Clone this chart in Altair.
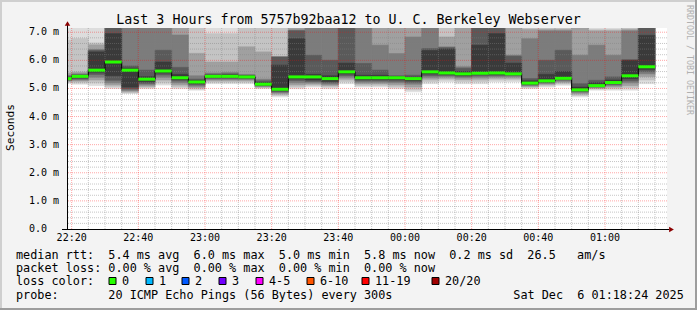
import altair as alt
import pandas as pd

# ---------------- data ----------------
TITLE = "Last 3 Hours from 5757b92baa12 to U. C. Berkeley Webserver"
Y_TITLE = "Seconds"
WATERMARK = "RRDTOOL / TOBI OETIKER"

X_TICKS = ["22:20", "22:40", "23:00", "23:20", "23:40", "00:00", "00:20", "00:40", "01:00"]
Y_TICKS = [0, 1, 2, 3, 4, 5, 6, 7]
Y_TICK_LABELS = ["0.0", "1.0 m", "2.0 m", "3.0 m", "4.0 m", "5.0 m", "6.0 m", "7.0 m"]

# end time of each 5-minute step
COL_END = ["22:20", "22:25", "22:30", "22:35", "22:40", "22:45", "22:50", "22:55", "23:00",
           "23:05", "23:10", "23:15", "23:20", "23:25", "23:30", "23:35", "23:40", "23:45",
           "23:50", "23:55", "00:00", "00:05", "00:10", "00:15", "00:20", "00:25", "00:30",
           "00:35", "00:40", "00:45", "00:50", "00:55", "01:00", "01:05", "01:10", "01:15"]

# median rtt (ms)
MEDIAN = [5.35, 5.43, 5.65, 5.94, 5.65, 5.33, 5.62, 5.38, 5.23,
          5.43, 5.43, 5.41, 5.15, 4.97, 5.41, 5.41, 5.35, 5.59,
          5.38, 5.38, 5.38, 5.35, 5.59, 5.55, 5.52, 5.54, 5.55,
          5.52, 5.19, 5.27, 5.36, 4.95, 5.10, 5.21, 5.45, 5.77]

# smoke bands: upper edges (outer -> inner), ms
UPPER = [
    [7.3, 6.72, 5.55, 5.47, 5.43, 5.39],
    [7.3, 6.77, 5.58, 5.52, 5.49, 5.46],
    [7.3, 6.62, 6.55, 6.38, 6.36, 6.30],
    [7.3, 7.3, 7.3, 7.3, 7.3, 6.95],
    [7.3, 7.3, 7.3, 7.3, 5.80, 5.72],
    [7.3, 7.3, 7.3, 7.3, 5.65, 5.42],
    [7.3, 7.3, 7.3, 7.3, 6.36, 5.94],
    [7.3, 7.3, 7.3, 6.90, 5.75, 5.50],
    [7.3, 7.2, 6.25, 5.45, 5.33, 5.28],
    [7.3, 6.95, 5.94, 5.55, 5.50, 5.47],
    [7.3, 6.95, 5.94, 5.57, 5.52, 5.48],
    [7.3, 7.3, 6.48, 5.50, 5.47, 5.45],
    [7.3, 7.3, 6.30, 5.33, 5.27, 5.21],
    [7.3, 7.3, 6.13, 6.12, 6.12, 5.83],
    [7.3, 7.3, 7.3, 7.08, 7.05, 6.77],
    [7.3, 7.3, 7.3, 7.3, 6.18, 5.50],
    [7.3, 7.3, 7.3, 7.3, 6.00, 5.45],
    [7.3, 7.3, 7.3, 7.3, 7.3, 5.90],
    [7.3, 7.3, 7.3, 7.3, 5.89, 5.47],
    [7.3, 7.3, 7.3, 6.54, 5.65, 5.47],
    [7.3, 7.3, 7.3, 6.24, 5.45, 5.42],
    [7.3, 7.3, 7.3, 6.83, 5.47, 5.40],
    [7.3, 7.3, 7.3, 7.3, 6.42, 6.35],
    [7.3, 7.3, 6.83, 6.48, 6.45, 6.40],
    [7.3, 7.3, 7.3, 5.77, 5.72, 5.60],
    [7.3, 7.3, 7.3, 7.3, 7.3, 6.54],
    [7.3, 7.3, 7.3, 7.3, 7.3, 6.95],
    [7.3, 7.3, 7.2, 6.18, 6.15, 5.90],
    [7.3, 7.3, 7.1, 6.77, 5.35, 5.27],
    [7.3, 7.3, 7.1, 7.05, 6.00, 5.50],
    [7.3, 7.3, 7.1, 7.05, 6.36, 5.60],
    [7.3, 7.3, 7.3, 6.18, 5.17, 5.05],
    [7.3, 7.1, 7.05, 6.54, 5.29, 5.20],
    [7.3, 7.1, 7.05, 6.18, 5.41, 5.30],
    [7.3, 7.3, 7.1, 7.05, 6.02, 6.00],
    [7.3, 7.3, 7.3, 7.3, 7.3, 6.89],
]
# smoke bands: lower edges (outer -> inner), ms
LOWER = [
    [5.18, 5.22, 5.25, 5.28, 5.30, 5.32],
    [5.15, 5.20, 5.26, 5.30, 5.34, 5.38],
    [5.10, 5.20, 5.30, 5.40, 5.50, 5.58],
    [5.00, 5.06, 5.12, 5.20, 5.29, 5.45],
    [4.82, 4.85, 4.88, 4.93, 4.98, 5.05],
    [4.99, 5.03, 5.08, 5.13, 5.18, 5.24],
    [5.12, 5.20, 5.30, 5.40, 5.48, 5.55],
    [4.99, 5.05, 5.12, 5.20, 5.27, 5.32],
    [4.94, 4.98, 5.03, 5.08, 5.13, 5.18],
    [5.17, 5.22, 5.27, 5.32, 5.36, 5.39],
    [5.17, 5.22, 5.27, 5.32, 5.36, 5.39],
    [5.17, 5.22, 5.27, 5.32, 5.35, 5.38],
    [4.99, 5.02, 5.05, 5.08, 5.10, 5.12],
    [4.70, 4.75, 4.80, 4.85, 4.88, 4.92],
    [4.99, 5.05, 5.12, 5.20, 5.28, 5.34],
    [5.05, 5.10, 5.15, 5.20, 5.25, 5.30],
    [4.99, 5.05, 5.10, 5.15, 5.20, 5.25],
    [5.17, 5.25, 5.33, 5.40, 5.46, 5.52],
    [5.05, 5.10, 5.16, 5.22, 5.27, 5.32],
    [5.05, 5.10, 5.16, 5.22, 5.27, 5.32],
    [4.99, 5.05, 5.12, 5.20, 5.26, 5.32],
    [4.88, 4.95, 5.05, 5.15, 5.22, 5.28],
    [5.17, 5.25, 5.33, 5.40, 5.46, 5.52],
    [5.23, 5.30, 5.36, 5.42, 5.46, 5.50],
    [5.17, 5.25, 5.32, 5.38, 5.43, 5.47],
    [5.17, 5.25, 5.33, 5.40, 5.45, 5.50],
    [5.23, 5.30, 5.36, 5.42, 5.46, 5.50],
    [5.23, 5.30, 5.36, 5.42, 5.46, 5.50],
    [4.99, 5.03, 5.07, 5.10, 5.13, 5.16],
    [5.05, 5.10, 5.14, 5.18, 5.21, 5.24],
    [5.11, 5.16, 5.21, 5.26, 5.30, 5.33],
    [4.70, 4.75, 4.80, 4.85, 4.89, 4.92],
    [4.94, 4.98, 5.01, 5.04, 5.06, 5.08],
    [4.94, 4.99, 5.05, 5.10, 5.14, 5.18],
    [4.94, 5.02, 5.10, 5.20, 5.27, 5.35],
    [5.17, 5.30, 5.42, 5.52, 5.60, 5.68],
]

LEGEND_LINES = [
    "median rtt:  5.4 ms avg  6.0 ms max  5.0 ms min  5.8 ms now  0.2 ms sd  26.5   am/s",
    "packet loss: 0.00 % avg  0.00 % max  0.00 % min  0.00 % now",
    "loss color:",
    "probe:       20 ICMP Echo Pings (56 Bytes) every 300s",
]
DATE_TEXT = "Sat Dec  6 01:18:24 2025"
LOSS_LABELS = ["0", "1", "2", "3", "4-5", "6-10", "11-19", "20/20"]
LOSS_COLORS = ["#26ff00", "#00b8ff", "#0059ff", "#7200ff", "#ff00ff", "#ff5500", "#ff0000", "#a00000"]

# ---------------- layout / style ----------------
FONT = "DejaVu Sans Mono"
W, H = 600, 201
PL, PT, PR, PB = 67, 28, 30, 81
X0, X1 = 18.6, 198.6
YMAX = 7.15
GRAYS = ["#dddddd", "#c4c4c4", "#a0a0a0", "#7c7c7c", "#5a5a5a", "#3a3a3a"]
LOSS_BOX_X = [109, 146, 182, 219, 256, 307, 362, 432]   # absolute px
LINE_BASE = [258.5, 271.8, 285.0, 298.5]                 # absolute px


def to_min(hhmm):
    h, m = (int(p) for p in hhmm.split(":"))
    if h < 12:
        h += 24
    return (h - 22) * 60 + m


def nb(s):
    return s.replace(" ", "\u00a0")


xs = alt.Scale(domain=[X0, X1], nice=False, zero=False)
ys = alt.Scale(domain=[0, YMAX], nice=False, zero=False)

# smoke table
rows = []
for j in range(len(GRAYS)):
    for k, end in enumerate(COL_END):
        t1 = to_min(end)
        rows.append(dict(t0=t1 - 5, t1=t1, lo=LOWER[k][j], hi=UPPER[k][j], layer=j))
smoke_df = pd.DataFrame(rows)

med_df = pd.DataFrame({
    "t0": [to_min(e) - 5 for e in COL_END],
    "t1": [to_min(e) for e in COL_END],
    "m": MEDIAN,
})
step_df = pd.DataFrame({
    "t": [to_min(e) - 5 for e in COL_END[1:]],
    "a": MEDIAN[:-1],
    "b": MEDIAN[1:],
})

x_tick_df = pd.DataFrame({"v": [to_min(s) for s in X_TICKS], "label": X_TICKS})
y_tick_df = pd.DataFrame({"v": Y_TICKS, "label": [nb(s) for s in Y_TICK_LABELS]})

minor_y = pd.DataFrame({"v": [i / 5 for i in range(1, int(YMAX * 5) + 1) if i % 5 != 0]})
major_y = pd.DataFrame({"v": [v for v in Y_TICKS if v > 0]})
minor_x = pd.DataFrame({"v": [m for m in range(20, int(X1), 5) if m % 20 != 0]})
major_x = pd.DataFrame({"v": [to_min(s) for s in X_TICKS]})

gray_scale = alt.Scale(domain=list(range(len(GRAYS))), range=GRAYS)

smoke = alt.Chart(smoke_df).mark_rect(clip=True, strokeWidth=0.6).encode(
    x=alt.X("t0:Q", scale=xs, axis=None),
    x2="t1:Q",
    y=alt.Y("lo:Q", scale=ys, axis=None),
    y2="hi:Q",
    color=alt.Color("layer:O", scale=gray_scale, legend=None),
    stroke=alt.Stroke("layer:O", scale=gray_scale, legend=None),
)

grid_minor_h = alt.Chart(minor_y).mark_rule(color="#808080", opacity=0.45, strokeDash=[1, 1]).encode(
    y=alt.Y("v:Q", scale=ys, axis=None))
grid_minor_v = alt.Chart(minor_x).mark_rule(color="#808080", opacity=0.45, strokeDash=[1, 1]).encode(
    x=alt.X("v:Q", scale=xs, axis=None))
grid_major_h = alt.Chart(major_y).mark_rule(color="#ff0000", opacity=0.35, strokeDash=[1, 1]).encode(
    y=alt.Y("v:Q", scale=ys, axis=None))
grid_major_v = alt.Chart(major_x).mark_rule(color="#ff0000", opacity=0.35, strokeDash=[1, 1]).encode(
    x=alt.X("v:Q", scale=xs, axis=None))

steps = alt.Chart(step_df).mark_rule(color="#000000", strokeWidth=1).encode(
    x=alt.X("t:Q", scale=xs, axis=None),
    y=alt.Y("a:Q", scale=ys, axis=None),
    y2="b:Q",
)
green = alt.Chart(med_df).mark_rule(color="#26ff00", strokeWidth=3, clip=True).encode(
    x=alt.X("t0:Q", scale=xs, axis=None),
    x2="t1:Q",
    y=alt.Y("m:Q", scale=ys, axis=None),
)

x_labels = alt.Chart(x_tick_df).mark_text(font=FONT, fontSize=10, align="center",
                                          baseline="top", color="#000000").encode(
    x=alt.X("v:Q", scale=xs, axis=None),
    y=alt.value(H + 4),
    text="label:N",
)
y_labels = alt.Chart(y_tick_df).mark_text(font=FONT, fontSize=10, align="left",
                                          baseline="middle", color="#000000").encode(
    x=alt.value(29 - PL),
    y=alt.Y("v:Q", scale=ys, axis=None),
    text="label:N",
)

one = pd.DataFrame({"a": [0]})


def rule(x, y, x2=None, y2=None, color="#000000", width=1):
    enc = dict(x=alt.value(x), y=alt.value(y))
    if x2 is not None:
        enc["x2"] = alt.value(x2)
    if y2 is not None:
        enc["y2"] = alt.value(y2)
    return alt.Chart(one).mark_rule(color=color, strokeWidth=width).encode(**enc)


def text(s, x, y, size=11.8, align="left", baseline="alphabetic", angle=0, color="#000000"):
    props = dict(font=FONT, fontSize=size, align=align, baseline=baseline, color=color)
    if angle:
        props["angle"] = angle
    return alt.Chart(one).mark_text(**props).encode(
        text=alt.value(nb(s)), x=alt.value(x), y=alt.value(y))


deco = [
    # axes
    rule(0.5, -3, y2=H + 0.5),
    rule(-5, H + 0.5, x2=W + 2),
    alt.Chart(one).mark_point(shape="triangle-up", filled=True, size=30, color="#8b0000", opacity=1).encode(
        x=alt.value(0.5), y=alt.value(-4.5)),
    alt.Chart(one).mark_point(shape="triangle-right", filled=True, size=30, color="#8b0000", opacity=1).encode(
        x=alt.value(W + 4.5), y=alt.value(H + 0.5)),
    # frame
    rule(-PL, -PT + 1, x2=W + PR, color="#cfcfcf", width=2),
    rule(-PL + 1, -PT, y2=H + PB, color="#cfcfcf", width=2),
    rule(W + PR - 1, -PT, y2=H + PB, color="#9d9d9d", width=2),
    rule(-PL, H + PB - 1, x2=W + PR, color="#9d9d9d", width=2),
    # texts
    text(TITLE, 348.5 - PL, 24 - PT, size=13.3, align="center"),
    text(Y_TITLE, 10.5 - PL, 127.5 - PT, size=11.2, align="center", baseline="middle", angle=270),
    text(WATERMARK, 688.5 - PL, 5 - PT, size=8.3, align="left", baseline="middle", angle=90,
         color="#b0b0b0"),
    text(DATE_TEXT, 513.3 - PL, LINE_BASE[3] - PT),
]
for line, base in zip(LEGEND_LINES, LINE_BASE):
    deco.append(text(line, 16 - PL, base - PT))

loss_df = pd.DataFrame({
    "label": LOSS_LABELS,
    "color": LOSS_COLORS,
    "bx": [b - PL for b in LOSS_BOX_X],
    "bx2": [b - PL + 7 for b in LOSS_BOX_X],
    "lx": [b - PL + 13 for b in LOSS_BOX_X],
})
loss_boxes = alt.Chart(loss_df).mark_rect(stroke="#000000", strokeWidth=1).encode(
    x=alt.X("bx:Q", scale=None, axis=None),
    x2="bx2:Q",
    y=alt.value(277.5 - PT),
    y2=alt.value(284.5 - PT),
    fill=alt.Fill("color:N", scale=None),
)
loss_labels = alt.Chart(loss_df).mark_text(font=FONT, fontSize=11.8, align="left",
                                           baseline="alphabetic", color="#000000").encode(
    x=alt.X("lx:Q", scale=None, axis=None),
    y=alt.value(LINE_BASE[2] - PT),
    text="label:N",
)

chart = alt.layer(
    smoke, grid_minor_h, grid_minor_v, grid_major_h, grid_major_v, steps, green,
    x_labels, y_labels, *deco, loss_boxes, loss_labels,
).properties(
    width=W, height=H,
    padding={"left": PL, "top": PT, "right": PR, "bottom": PB},
    autosize=alt.AutoSizeParams(type="none"),
    background="#f3f3f3",
).configure_view(fill="#ffffff", strokeWidth=0)

chart.save("out.html", embed_options={"renderer": "svg", "actions": False})
